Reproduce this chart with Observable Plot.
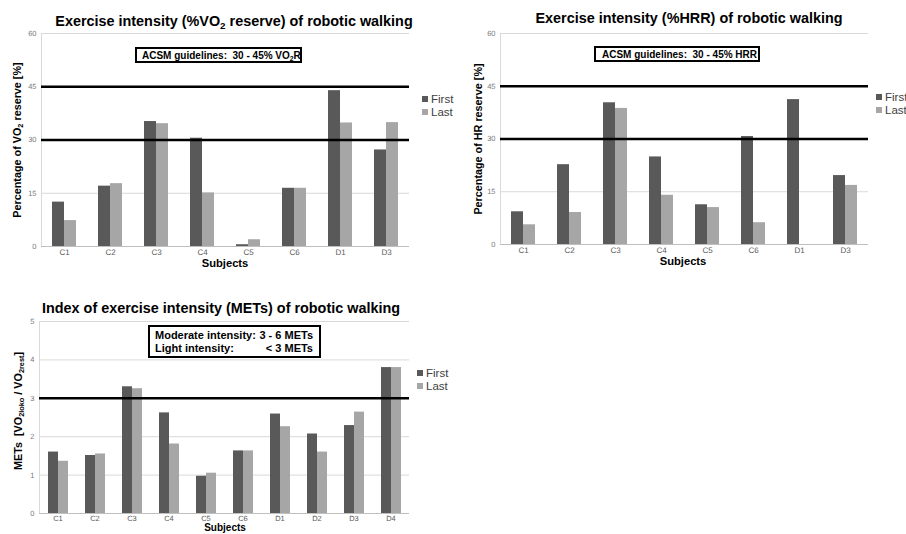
<!DOCTYPE html>
<html>
<head>
<meta charset="utf-8">
<script src="https://cdn.jsdelivr.net/npm/d3@7"></script>
<script src="https://cdn.jsdelivr.net/npm/@observablehq/plot@0.6"></script>
<style>
  html, body { margin: 0; padding: 0; background: #fff; }
  #root { position: relative; width: 906px; height: 534px; overflow: hidden; background: #fff;
          font-family: "Liberation Sans", Arial, sans-serif; color: #000; }
  .title { position: absolute; font-weight: bold; font-size: 14.4px; white-space: nowrap; transform: translateX(-50%); line-height: 1; }
  .ylab { position: absolute; font-weight: bold; font-size: 10.8px; white-space: nowrap; transform: translate(-50%, -50%) rotate(-90deg); line-height: 1; }
  .xlab { position: absolute; font-weight: bold; font-size: 11.2px; white-space: nowrap; transform: translateX(-50%); line-height: 1; }
  .sub { font-size: 0.68em; position: relative; top: 0.3em; }
  .box { position: absolute; border: 2px solid #000; box-sizing: border-box; background: #fff; font-weight: bold; font-size: 10px; white-space: nowrap; }
  .legend { position: absolute; font-size: 11.5px; color: #404040; line-height: 13px; white-space: nowrap; }
  .legend .sw { display: inline-block; width: 6px; height: 6px; margin-right: 3px; vertical-align: 1px; }
  svg { overflow: visible; }
  svg text { text-rendering: geometricPrecision; }
</style>
</head>
<body>
<div id="root"></div>
<script>
// ---------- data ----------
const series = ["First", "Last"];
const seriesColors = ["#595959", "#a6a6a6"];

const reserveSubjects = ["C1", "C2", "C3", "C4", "C5", "C6", "D1", "D3"];
const vo2First = [12.5, 17.0, 35.2, 30.5, 0.5, 16.4, 43.9, 27.2];
const vo2Last  = [7.3, 17.7, 34.6, 15.1, 1.9, 16.4, 34.8, 34.9];
const hrrFirst = [9.3, 22.7, 40.3, 24.9, 11.3, 30.7, 41.2, 19.6];
const hrrLast  = [5.6, 9.1, 38.7, 14.0, 10.5, 6.2, null, 16.8];
const reserveTicks = [0, 15, 30, 45, 60];
const reserveGuides = [30, 45];

const metSubjects = ["C1", "C2", "C3", "C4", "C5", "C6", "D1", "D2", "D3", "D4"];
const metFirst = [1.60, 1.51, 3.30, 2.62, 0.97, 1.63, 2.59, 2.07, 2.29, 3.80];
const metLast  = [1.36, 1.55, 3.25, 1.81, 1.05, 1.63, 2.26, 1.60, 2.64, 3.80];
const metTicks = [0, 1, 2, 3, 4, 5];
const metGuides = [3];

// ---------- chart builder ----------
function panel(o) {
  const rows = o.subjects.flatMap((s, i) => [
    {subject: s, series: series[0], value: o.first[i]},
    {subject: s, series: series[1], value: o.last[i]}
  ]).filter(d => d.value != null);
  return Plot.plot({
    width: o.width, height: o.height,
    marginLeft: o.ml, marginRight: o.mr, marginTop: o.mt, marginBottom: o.mb,
    style: {fontFamily: "Liberation Sans, Arial, sans-serif", fontSize: "8px", color: "#595959", background: "transparent", overflow: "visible"},
    fx: {domain: o.subjects, padding: 0, label: null},
    x: {domain: series, paddingInner: 0, paddingOuter: o.po, axis: null},
    y: {domain: [o.ticks[0], o.ticks[o.ticks.length - 1]], axis: null},
    color: {domain: series, range: seriesColors},
    marks: [
      Plot.gridY(o.ticks, {stroke: "#d9d9d9", strokeOpacity: 1}),
      Plot.frame({anchor: "left", facetAnchor: "left", stroke: "#d9d9d9"}),
      Plot.barY(rows, {fx: "subject", x: "series", y: "value", fill: "series"}),
      Plot.ruleY([o.ticks[0]], {stroke: "#bfbfbf"}),
      Plot.ruleY(o.guides, {stroke: "#000", strokeWidth: 2.6}),
      Plot.axisY(o.ticks, {tickSize: 0, tickPadding: 5, fill: "#7a7a7a", fontSize: 7.5, label: null}),
      Plot.axisFx({anchor: "bottom", tickSize: 0, tickPadding: o.tp, fill: "#595959", fontSize: o.fs, label: null})
    ]
  });
}

const root = document.getElementById("root");
function place(node, left, top) {
  node.style.position = "absolute";
  node.style.left = left + "px";
  node.style.top = top + "px";
  root.appendChild(node);
}
function html(str) {
  const t = document.createElement("div");
  t.innerHTML = str.trim();
  root.appendChild(t.firstChild);
}
function legend(left, top) {
  const d = document.createElement("div");
  d.className = "legend";
  d.style.left = left + "px";
  d.style.top = top + "px";
  d.innerHTML = series.map((s, i) => `<div><span class="sw" style="background:${seriesColors[i]}"></span>${s}</div>`).join("");
  root.appendChild(d);
}

// Panel 1: %VO2 reserve
place(panel({subjects: reserveSubjects, first: vo2First, last: vo2Last, ticks: reserveTicks, guides: reserveGuides,
  width: 450, height: 275, ml: 38, mr: 38, mt: 33, mb: 29, po: 0.8, tp: 3, fs: 8}), 0, 0);
// Panel 2: %HRR
place(panel({subjects: reserveSubjects, first: hrrFirst, last: hrrLast, ticks: reserveTicks, guides: reserveGuides,
  width: 456, height: 275, ml: 48, mr: 36, mt: 33, mb: 31, po: 0.8, tp: 3, fs: 8}), 450, 0);
// Panel 3: METs
place(panel({subjects: metSubjects, first: metFirst, last: metLast, ticks: metTicks, guides: metGuides,
  width: 450, height: 264, ml: 38, mr: 40, mt: 51, mb: 21, po: 0.77, tp: 2, fs: 7.5}), 0, 270);

// Titles
html(`<div class="title" style="left:234px; top:14px">Exercise intensity (%VO<span class="sub">2</span> reserve) of robotic walking</div>`);
html(`<div class="title" style="left:689px; top:11px">Exercise intensity (%HRR) of robotic walking</div>`);
html(`<div class="title" style="left:221px; top:301px">Index of exercise intensity (METs) of robotic walking</div>`);

// Axis labels
html(`<div class="ylab" style="left:17px; top:140px">Percentage of VO<span class="sub">2</span> reserve [%]</div>`);
html(`<div class="ylab" style="left:478px; top:139px">Percentage of HR reserve [%]</div>`);
html(`<div class="ylab" style="left:18px; top:411px">METs&nbsp; [VO<span class="sub">2loko</span> / VO<span class="sub">2rest</span>]</div>`);
html(`<div class="xlab" style="left:225px; top:258px">Subjects</div>`);
html(`<div class="xlab" style="left:683px; top:256px">Subjects</div>`);
html(`<div class="xlab" style="left:225px; top:523px; font-size:10px">Subjects</div>`);

// Annotation boxes
html(`<div class="box" style="left:135px; top:47px; width:167px; height:16px; padding:1px 0 0 5px">ACSM guidelines:&nbsp; 30 - 45% VO<span class="sub">2</span>R</div>`);
html(`<div class="box" style="left:594px; top:46px; width:166px; height:16px; padding:1px 0 0 6px">ACSM guidelines:&nbsp; 30 - 45% HRR</div>`);
html(`<div class="box" style="left:148px; top:325px; width:173px; height:33px; padding:2px 6px 0 5px; font-size:11px; line-height:13px">
  <div style="display:flex; justify-content:space-between"><span>Moderate intensity:</span><span>3 - 6 METs</span></div>
  <div style="display:flex; justify-content:space-between"><span>Light intensity:</span><span>&lt; 3 METs</span></div>
</div>`);

// Legends
legend(422, 93);
legend(876, 91);
legend(417, 367);
</script>
</body>
</html>
